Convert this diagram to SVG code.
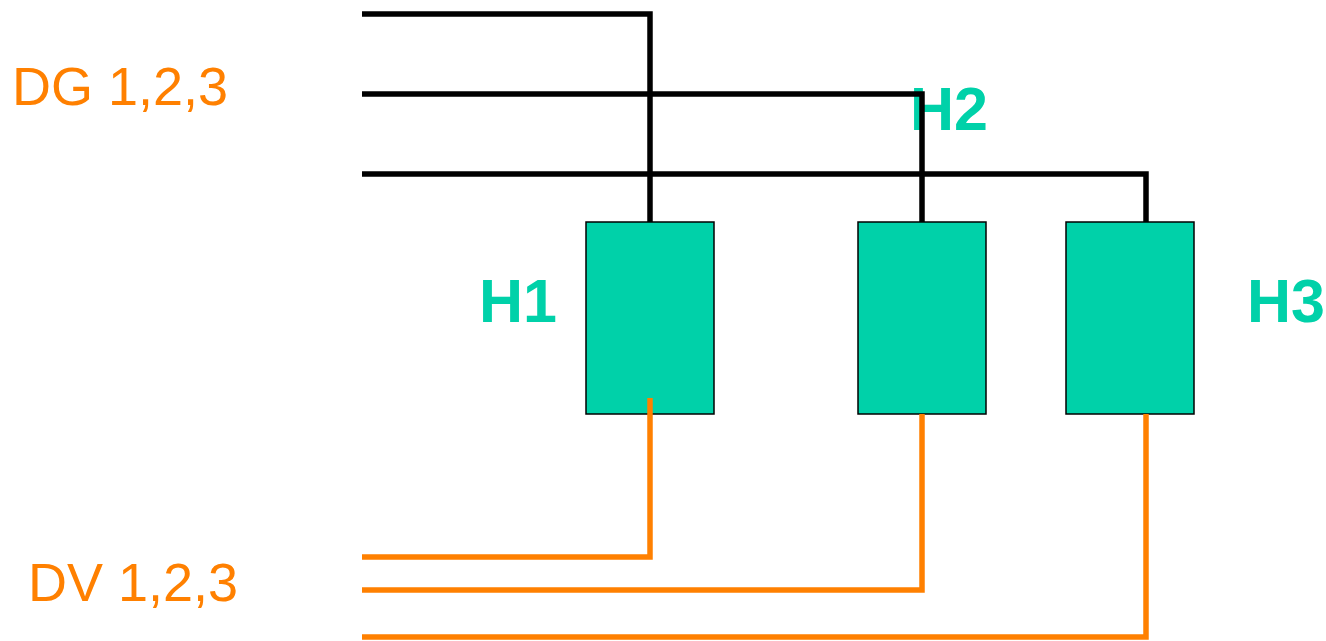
<svg xmlns="http://www.w3.org/2000/svg" width="1326" height="641" viewBox="0 0 1326 641">
  <style>
    .box { fill: #00D1A9; stroke: #000; stroke-width: 1.5; }
    .hlabel { font-family: "Liberation Sans", Arial, sans-serif; font-weight: bold; font-size: 61px; fill: #00D1A9; }
    .busLabel { font-family: "Liberation Sans", Arial, sans-serif; font-size: 54px; fill: #FF8000; }
    .dg { fill: none; stroke: #000; stroke-width: 5.5; stroke-linejoin: miter; }
    .dv { fill: none; stroke: #FF8000; stroke-width: 5.5; stroke-linejoin: miter; }
  </style>

  <rect width="1326" height="641" fill="#fff"/>

  <!-- bus labels -->
  <g id="label-dg">
    <text class="busLabel" x="12" y="105">DG 1,2,3</text>
  </g>
  <g id="label-dv">
    <text class="busLabel" x="28" y="601">DV 1,2,3</text>
  </g>

  <!-- units -->
  <g id="H1">
    <rect class="box" x="586" y="222" width="128" height="192"/>
    <text class="hlabel" x="479" y="322">H1</text>
  </g>
  <g id="H2">
    <rect class="box" x="858" y="222" width="128" height="192"/>
    <text class="hlabel" x="910" y="130">H2</text>
  </g>
  <g id="H3">
    <rect class="box" x="1066" y="222" width="128" height="192"/>
    <text class="hlabel" x="1247" y="322">H3</text>
  </g>

  <!-- feed and return lines -->
  <g id="connectors">
    <polyline class="dg" points="362,14 650,14 650,222"/>
    <polyline class="dg" points="362,94 922,94 922,222"/>
    <polyline class="dg" points="362,174 1146,174 1146,222"/>
    <polyline class="dv" points="650,398 650,557 362,557"/>
    <polyline class="dv" points="922,414 922,590 362,590"/>
    <polyline class="dv" points="1146,414 1146,637 362,637"/>
  </g>
</svg>
